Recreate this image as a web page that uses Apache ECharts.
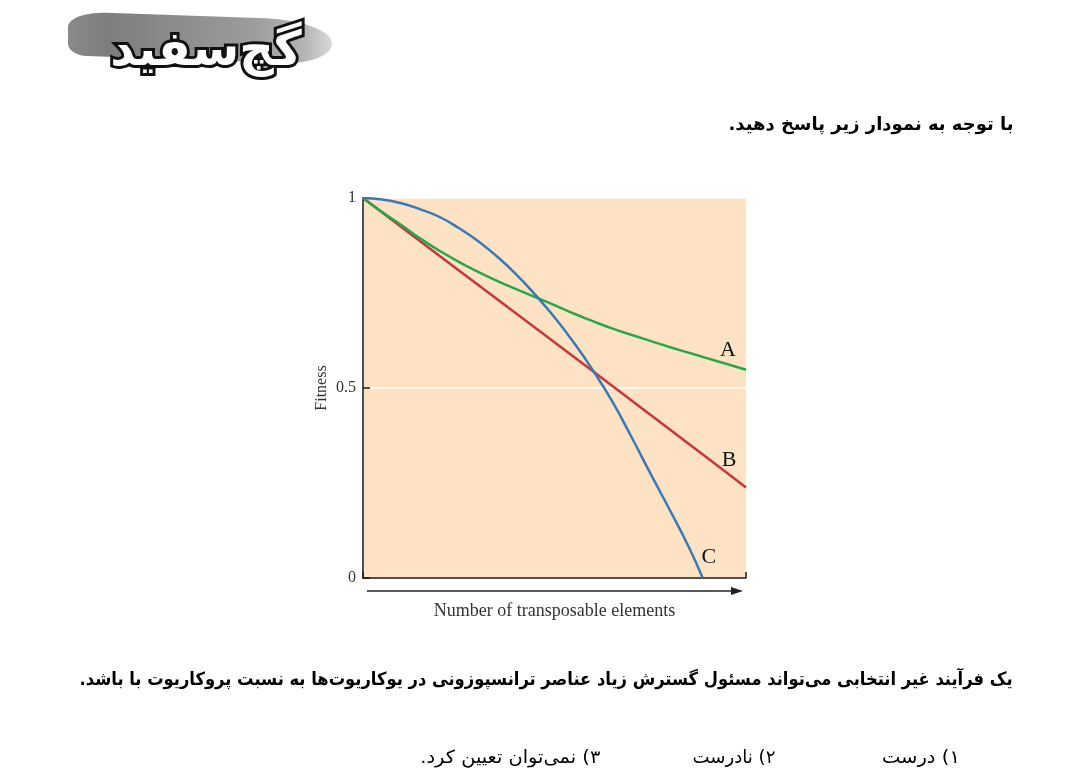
<!DOCTYPE html>
<html>
<head>
<meta charset="utf-8">
<script src="https://cdn.jsdelivr.net/npm/echarts@6/dist/echarts.min.js"></script>
<style>
  html, body { margin:0; padding:0; background:#fff; }
  #wrap { position:relative; width:1075px; height:780px; overflow:hidden; background:#fff; }
  #chart { position:absolute; left:0; top:0; width:1075px; height:780px; }
  .fa { position:absolute; direction:rtl; font-family:"DejaVu Sans", sans-serif; color:#000; white-space:nowrap; }
  #title { right:62px; top:113px; font-size:18px; font-weight:bold; transform-origin:right center; }
  #question { right:62px; top:668px; font-size:18px; font-weight:bold; transform-origin:right center; }
  .opt { top:746px; font-size:18px; transform-origin:right center; }
  #logo { position:absolute; left:66px; top:8px; width:270px; height:72px; }
  #brush { position:absolute; left:2px; top:8px; width:264px; height:44px;
    background:linear-gradient(90deg,#8a8a8a 0%,#7e7e7e 15%,#8e8e8e 45%,#9c9c9c 70%,#b4b4b4 90%,#dadada 100%);
    border-radius:40px 70px 50px 20px / 16px 24px 22px 12px; transform:skewY(2deg); }
  #logotext { position:absolute; left:20px; top:10px; width:240px; text-align:center; direction:rtl;
    font-family:"DejaVu Sans", sans-serif; font-weight:bold; font-size:48px; line-height:60px; color:#fff;
    -webkit-text-stroke:6px #111; paint-order:stroke fill; letter-spacing:2px; }
</style>
</head>
<body>
<div id="wrap">
  <div id="chart"></div>
  <div id="logo"><div id="brush"></div><div id="logotext">گچ&zwnj;سفید</div></div>
  <div id="title" class="fa">با توجه به نمودار زیر پاسخ دهید.</div>
  <div id="question" class="fa">یک فرآیند غیر انتخابی می&zwnj;تواند مسئول گسترش زیاد عناصر ترانسپوزونی در یوکاریوت&zwnj;ها به نسبت پروکاریوت با باشد.</div>
  <div id="opt1" class="fa opt" style="right:115px;">۱) درست</div>
  <div id="opt2" class="fa opt" style="right:300px;">۲) نادرست</div>
  <div id="opt3" class="fa opt" style="right:475px;">۳) نمی&zwnj;توان تعیین کرد.</div>
</div>
<script>
// ---- data (x: relative number of elements 0..100, y: fitness) ----
const yTickValues = [0, 0.5, 1];
const xRange = [0, 100];
const seriesNames = ['A', 'B', 'C'];

const curveA = [[0,1],[5,0.963],[10,0.929],[15,0.893],[20,0.861],[25,0.832],[30,0.806],
  [35,0.782],[40,0.760],[45,0.739],[50,0.718],[55,0.696],[60,0.676],[65,0.657],[70,0.640],
  [75,0.624],[80,0.608],[85,0.593],[90,0.578],[95,0.563],[100,0.548]];
const curveB = [[0,1],[20.1,0.847],[45.3,0.656],[59.7,0.547],[93.2,0.291],[100,0.238]];
const curveC = [[0,1],[5,0.996],[10,0.986],[15,0.970],[20,0.950],[25,0.921],[30,0.887],
  [35,0.846],[40,0.799],[45,0.745],[50,0.686],[55,0.620],[60,0.547],[65,0.466],[70,0.373],
  [75,0.276],[80,0.181],[85,0.083],[88.7,0.0]];

const labelPosA = [95.3, 0.60];
const labelPosB = [95.6, 0.311];
const labelPosC = [90.3, 0.055];

const xAxisName = 'Number of transposable elements';
const yAxisName = 'Fitness';

// ---- styles ----
const serif = '"Liberation Serif", "DejaVu Serif", serif';
const axisColor = '#1a1a1a';
const colA = '#2aa64a', colB = '#c5373d', colC = '#3b78b5';

function labelPoint(name, pos) {
  return {
    symbol: 'rect', symbolSize: 1, silent: true,
    itemStyle: { color: 'rgba(0,0,0,0)' },
    label: { show: true, position: 'inside', formatter: name, color: '#111',
      fontFamily: serif, fontSize: 22 },
    data: [{ coord: pos }]
  };
}

const chart = echarts.init(document.getElementById('chart'), null, { renderer: 'canvas' });
chart.setOption({
  animation: false,
  backgroundColor: '#ffffff',
  grid: { left: 363, top: 198, width: 383, height: 380, show: true,
    backgroundColor: '#fde2c4', borderWidth: 0 },
  xAxis: {
    type: 'value', min: xRange[0], max: xRange[1], interval: xRange[1] - xRange[0],
    axisLine: { show: true, onZero: false, lineStyle: { color: axisColor, width: 1.5 } },
    axisTick: { show: true, inside: true, length: 6, lineStyle: { color: axisColor, width: 1.5 } },
    axisLabel: { show: false },
    splitLine: { show: false },
    name: xAxisName, nameLocation: 'middle', nameGap: 24,
    nameTextStyle: { fontFamily: serif, fontSize: 18, color: '#333' }
  },
  yAxis: {
    type: 'value', min: yTickValues[0], max: yTickValues[yTickValues.length - 1],
    interval: yTickValues[1] - yTickValues[0],
    axisLine: { show: true, onZero: false, lineStyle: { color: axisColor, width: 1.5 } },
    axisTick: { show: true, inside: true, length: 7, lineStyle: { color: axisColor, width: 1.5 } },
    axisLabel: { show: true, margin: 7, fontFamily: serif, fontSize: 16, color: '#333',
      formatter: v => String(v) },
    splitLine: { show: true, lineStyle: { color: '#ffffff', width: 1.5 } },
    name: yAxisName, nameLocation: 'middle', nameGap: 33, nameRotate: 90,
    nameTextStyle: { fontFamily: serif, fontSize: 16, color: '#333' }
  },
  series: [
    { name: seriesNames[0], type: 'line', data: curveA, smooth: 0.5, showSymbol: false,
      lineStyle: { color: colA, width: 2.5 }, itemStyle: { color: colA }, z: 3,
      markPoint: labelPoint(seriesNames[0], labelPosA) },
    { name: seriesNames[1], type: 'line', data: curveB, smooth: false, showSymbol: false,
      lineStyle: { color: colB, width: 2.5 }, itemStyle: { color: colB }, z: 2,
      markPoint: labelPoint(seriesNames[1], labelPosB) },
    { name: seriesNames[2], type: 'line', data: curveC, smooth: 0.5, showSymbol: false,
      lineStyle: { color: colC, width: 2.5 }, itemStyle: { color: colC }, z: 4,
      markPoint: labelPoint(seriesNames[2], labelPosC) }
  ],
  graphic: [
    { type: 'line', shape: { x1: 367, y1: 591, x2: 734, y2: 591 },
      style: { stroke: '#222', lineWidth: 1.5 } },
    { type: 'polygon', shape: { points: [[743, 591], [731, 587], [731, 595]] },
      style: { fill: '#222' } }
  ]
});

// fit Persian text widths to the reference layout
function fitWidth(id, target) {
  const el = document.getElementById(id);
  const w = el.getBoundingClientRect().width;
  if (w > 0) el.style.transform = 'scaleX(' + (target / w) + ')';
}
fitWidth('title', 285);
fitWidth('question', 933);
fitWidth('opt1', 78);
fitWidth('opt2', 83);
fitWidth('opt3', 180);
</script>
</body>
</html>
